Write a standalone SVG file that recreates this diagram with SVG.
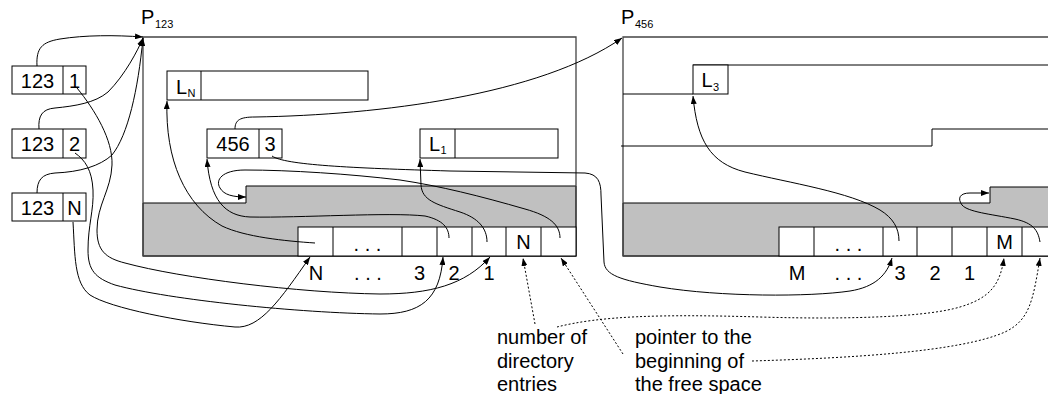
<svg xmlns="http://www.w3.org/2000/svg" width="1048" height="394" viewBox="0 0 1048 394">
<style>
text{font-family:"Liberation Sans",Arial,sans-serif;font-size:20px;fill:#000}
.sub{font-size:11px}
.c{text-anchor:middle}
.box{fill:#fff;stroke:#000;stroke-width:1}
.page{fill:none;stroke:#444;stroke-width:1.3}
.gray{fill:#c0c0c0;stroke:#000;stroke-width:1}
.ln{fill:none;stroke:#000;stroke-width:1}
.con{fill:none;stroke:#000;stroke-width:1;marker-end:url(#ah)}
.dot{fill:none;stroke:#000;stroke-width:1;stroke-dasharray:2,2;marker-end:url(#ah)}
</style>
<defs>
<marker id="ah" markerWidth="8" markerHeight="6" refX="8" refY="3" orient="auto" markerUnits="userSpaceOnUse">
<path d="M0,0 L8,3 L0,6 Z" fill="#000"/>
</marker>
</defs>
<rect width="1048" height="394" fill="#fff"/>

<g id="page123">
<path class="gray" d="M143,203 L246,203 L246,186 L576,186 L576,256 L143,256 Z"/>
<path class="page" d="M143,37 L576,37 L576,256 L143,256 Z"/>
<text x="141" y="24">P</text><text class="sub" x="155" y="28">123</text>
</g>

<g id="dir123">
<rect class="box" x="298" y="227" width="278" height="29"/>
<path class="ln" d="M333,227V256M402,227V256M437,227V256M472,227V256M506,227V256M541,227V256"/>
<text class="c" x="367.5" y="251">. . .</text>
<text class="c" x="523.5" y="248.5">N</text>
<text class="c" x="316" y="280">N</text>
<text class="c" x="368" y="280">. . .</text>
<text class="c" x="419.5" y="280">3</text>
<text class="c" x="454" y="280">2</text>
<text class="c" x="489" y="280">1</text>
</g>

<g id="recLN">
<rect class="box" x="167" y="71" width="201" height="29"/>
<path class="ln" d="M201,71V100"/>
<text x="176" y="94">L</text><text class="sub" x="187.5" y="97">N</text>
</g>

<g id="rec456">
<rect class="box" x="207" y="129" width="75" height="29"/>
<path class="ln" d="M259,129V158"/>
<text class="c" x="233" y="151">456</text>
<text class="c" x="270" y="151">3</text>
</g>

<g id="recL1">
<rect class="box" x="420" y="129" width="138" height="29"/>
<path class="ln" d="M455,129V158"/>
<text x="429" y="151">L</text><text class="sub" x="440.5" y="154">1</text>
</g>

<g id="rid1">
<rect class="box" x="12" y="66" width="74" height="28"/>
<path class="ln" d="M63,66V94"/>
<text class="c" x="37.5" y="87.5">123</text>
<text class="c" x="74.5" y="87.5">1</text>
</g>
<g id="rid2">
<rect class="box" x="12" y="129" width="74" height="29"/>
<path class="ln" d="M63,129V158"/>
<text class="c" x="37.5" y="151">123</text>
<text class="c" x="74.5" y="151">2</text>
</g>
<g id="ridN">
<rect class="box" x="12" y="193" width="74" height="28"/>
<path class="ln" d="M63,193V221"/>
<text class="c" x="37.5" y="214.5">123</text>
<text class="c" x="74.5" y="214.5">N</text>
</g>

<g id="page456">
<path class="gray" d="M623,203 L990,203 L990,187 L1060,187 L1060,256 L623,256 Z"/>
<path class="page" d="M1060,37 L623,37 L623,256 L1060,256"/>
<path class="ln" d="M623,94 L693,94 M693,65 L1060,65 M621,146 L932,146 L932,129 L1060,129"/>
<text x="621" y="24">P</text><text class="sub" x="635" y="28">456</text>
</g>

<g id="recL3">
<rect class="box" x="693" y="65" width="35" height="29"/>
<text x="701.5" y="86.5">L</text><text class="sub" x="713" y="91">3</text>
</g>

<g id="dir456">
<rect class="box" x="779" y="227" width="278" height="29"/>
<path class="ln" d="M814,227V256M883,227V256M917,227V256M952,227V256M987,227V256M1022,227V256"/>
<text class="c" x="848.5" y="251">. . .</text>
<text class="c" x="1004.5" y="248.5">M</text>
<text class="c" x="797" y="280">M</text>
<text class="c" x="848.5" y="280">. . .</text>
<text class="c" x="900" y="280">3</text>
<text class="c" x="935" y="280">2</text>
<text class="c" x="969.5" y="280">1</text>
</g>

<g id="labels">
<text x="497" y="344">number of</text>
<text x="497" y="368">directory</text>
<text x="497" y="391">entries</text>
<text x="635" y="344">pointer to the</text>
<text x="635" y="368">beginning of</text>
<text x="635" y="391">the free space</text>
</g>

<g id="connectors">
<path class="con" d="M37,66 C36,48 42,42 60,39 C85,35 115,35 143,37"/>
<path class="con" d="M39,129 C38,116 42,109 55,108 C75,106 95,103 108,92 C125,75 138,50 143,38"/>
<path class="con" d="M37,193 C37,180 42,174 55,173 C80,172 100,166 112,155 C128,135 138,90 143,38"/>
<path class="con" d="M77,88 C95,110 113,140 112,165 C111,190 97,205 97,230 C97,250 105,258 125,263 C180,278 300,293 380,294 C430,294 465,285 490,257"/>
<path class="con" d="M75,153 C85,160 92,170 93,190 C94,210 88,225 88,250 C88,270 95,278 115,285 C170,300 300,313 380,314 C420,314 440,300 443,257"/>
<path class="con" d="M73,222 C75,255 74,283 90,295 C110,308 180,322 235,327 C260,329 280,300 310,257"/>
<path class="con" d="M315,243 C285,241 245,237 222,226 C185,205 165,160 167,101"/>
<path class="con" d="M449,238 C449,228 443,220 425,216 C390,212 300,218 250,217 C225,216 210,200 207,159"/>
<path class="con" d="M487,242 C487,228 478,218 460,212 C435,204 422,200 421,185 L420,159"/>
<path class="con" d="M235,129 C235,120 240,117 255,117 C380,115 540,95 622,38"/>
<path class="con" d="M272,156 C285,165 350,168 450,171 L585,173 C598,174 601,182 601,195 L604,262 C605,275 620,280 660,287 C720,297 810,297 850,291 C875,287 887,275 892,258"/>
<path class="con" d="M560,238 C560,225 550,216 525,209 C480,196 440,186 400,180 C350,174 290,170 245,170 C222,170 215,180 220,188 C224,195 233,197 246,197"/>
<path class="con" d="M899,241 C899,228 893,218 880,210 C850,192 790,183 745,172 C710,163 697,140 693,96"/>
<path class="con" d="M1040,242 C1038,230 1033,223 1015,219 C990,214 968,212 962,205 C957,198 960,193 970,193 L989,193"/>
<path class="dot" d="M535,324 L523,258"/>
<path class="dot" d="M557,327 C600,316 660,314 760,317 C860,320 930,316 960,307 C990,298 1000,285 1004,258"/>
<path class="dot" d="M623,354 L561,258"/>
<path class="dot" d="M752,361 C850,358 960,352 1005,332 C1030,320 1033,300 1040,258"/>
</g>
</svg>
